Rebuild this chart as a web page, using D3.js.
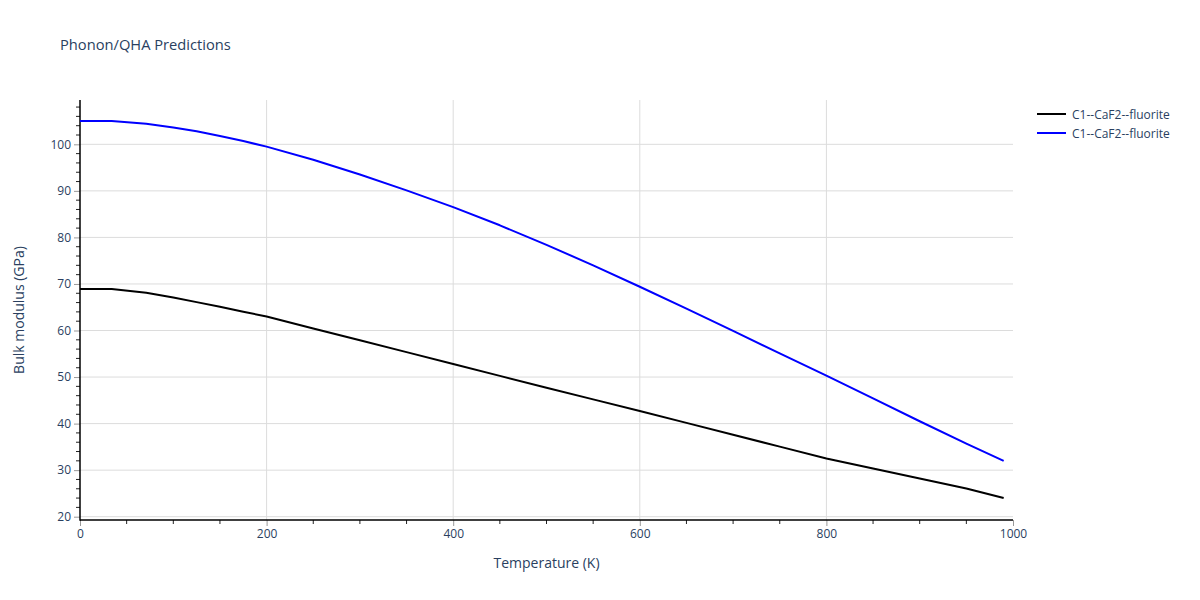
<!DOCTYPE html>
<html>
<head>
<meta charset="utf-8">
<script src="https://cdn.jsdelivr.net/npm/d3@7/dist/d3.min.js"></script>
<style>
  body { margin: 0; background: #fff; }
  svg { font-family: "Open Sans", "DejaVu Sans", sans-serif; }
</style>
</head>
<body>
<svg id="chart" width="1200" height="600"></svg>
<script>
const temperatures = [0, 34, 71, 100, 125, 150, 175, 200, 250, 300, 350, 400, 450, 500, 550, 600, 650, 700, 750, 800, 850, 900, 950, 990];
const bulkBlack = [68.9, 68.9, 68.1, 67.1, 66.1, 65.1, 64.05, 63.0, 60.45, 57.9, 55.35, 52.8, 50.25, 47.7, 45.2, 42.7, 40.15, 37.6, 35.05, 32.5, 30.35, 28.2, 26.05, 24.0];
const bulkBlue = [105.0, 105.0, 104.4, 103.6, 102.8, 101.8, 100.7, 99.5, 96.7, 93.5, 90.1, 86.5, 82.6, 78.4, 74.0, 69.4, 64.7, 59.9, 55.1, 50.3, 45.4, 40.5, 35.7, 32.0];
const seriesNames = ["C1--CaF2--fluorite", "C1--CaF2--fluorite"];
const seriesColors = ["#000000", "#0000ff"];
const xTicks = [0, 200, 400, 600, 800, 1000];
const yTicks = [20, 30, 40, 50, 60, 70, 80, 90, 100];

const svg = d3.select("#chart");
const L = 80, R = 1013, T = 100, B = 520;
const x = d3.scaleLinear().domain([0, 1000]).range([L, R]);
const y = d3.scaleLinear().domain([19.29, 109.52]).range([B, T]);
const tickColor = "#2a3f5f";

// grid
svg.append("g").selectAll("line").data(xTicks.filter(d => d > 0 && d < 1000)).join("line")
  .attr("x1", d => x(d)).attr("x2", d => x(d)).attr("y1", T).attr("y2", B)
  .attr("stroke", "#dcdcdc").attr("stroke-width", 1);
svg.append("g").selectAll("line").data(yTicks).join("line")
  .attr("x1", L).attr("x2", R).attr("y1", d => y(d)).attr("y2", d => y(d))
  .attr("stroke", "#dcdcdc").attr("stroke-width", 1);

// minor ticks
const xMinor = d3.range(50, 1000, 50).filter(d => d % 200 !== 0);
const yMinor = d3.range(20, 110, 2).filter(d => d % 10 !== 0);
svg.append("g").selectAll("line").data(xMinor).join("line")
  .attr("x1", d => x(d)).attr("x2", d => x(d)).attr("y1", B).attr("y2", B + 4)
  .attr("stroke", "#222").attr("stroke-width", 1);
svg.append("g").selectAll("line").data(yMinor).join("line")
  .attr("x1", L - 4).attr("x2", L).attr("y1", d => y(d)).attr("y2", d => y(d))
  .attr("stroke", "#222").attr("stroke-width", 1);

// axes
const xAxis = d3.axisBottom(x).tickValues(xTicks).tickFormat(d3.format("d"))
  .tickSize(6).tickPadding(3).tickSizeOuter(0);
const gx = svg.append("g").attr("transform", `translate(0,${B})`).call(xAxis);
gx.select(".domain").remove();
gx.selectAll(".tick line").attr("stroke", "#999");
gx.selectAll("text").attr("fill", tickColor).attr("font-size", 12)
  .attr("font-family", '"Open Sans", sans-serif');

const yAxis = d3.axisLeft(y).tickValues(yTicks).tickFormat(d3.format("d"))
  .tickSize(6).tickPadding(3).tickSizeOuter(0);
const gy = svg.append("g").attr("transform", `translate(${L},0)`).call(yAxis);
gy.select(".domain").remove();
gy.selectAll(".tick line").attr("stroke", "#999");
gy.selectAll("text").attr("fill", tickColor).attr("font-size", 12)
  .attr("font-family", '"Open Sans", sans-serif');

// axis lines
svg.append("line").attr("x1", L).attr("x2", R).attr("y1", B).attr("y2", B)
  .attr("stroke", "#000").attr("stroke-width", 1.5);
svg.append("line").attr("x1", L).attr("x2", L).attr("y1", T).attr("y2", B + 0.75)
  .attr("stroke", "#000").attr("stroke-width", 1.5);

// lines
const line = d3.line().x((d, i) => x(temperatures[i])).y(d => y(d));
[bulkBlack, bulkBlue].forEach((s, k) => {
  svg.append("path").datum(s).attr("d", line)
    .attr("fill", "none").attr("stroke", seriesColors[k]).attr("stroke-width", 2)
    .attr("stroke-linejoin", "round");
});

// title
svg.append("text").attr("x", 60).attr("y", 50).text("Phonon/QHA Predictions")
  .attr("font-size", 14.7).attr("fill", tickColor);

// axis titles
svg.append("text").attr("x", (L + R) / 2).attr("y", 568).attr("text-anchor", "middle")
  .text("Temperature (K)").attr("font-size", 14).attr("fill", tickColor);
svg.append("text").attr("transform", `translate(24,${(T + B) / 2}) rotate(-90)`)
  .attr("text-anchor", "middle").text("Bulk modulus (GPa)")
  .attr("font-size", 14).attr("fill", tickColor);

// legend
seriesNames.forEach((n, k) => {
  const ly = 114 + k * 19;
  svg.append("line").attr("x1", 1037).attr("x2", 1066).attr("y1", ly).attr("y2", ly)
    .attr("stroke", seriesColors[k]).attr("stroke-width", 2);
  svg.append("text").attr("x", 1072).attr("y", ly + 4.5).text(n)
    .attr("font-size", 12).attr("fill", tickColor);
});
</script>
</body>
</html>
